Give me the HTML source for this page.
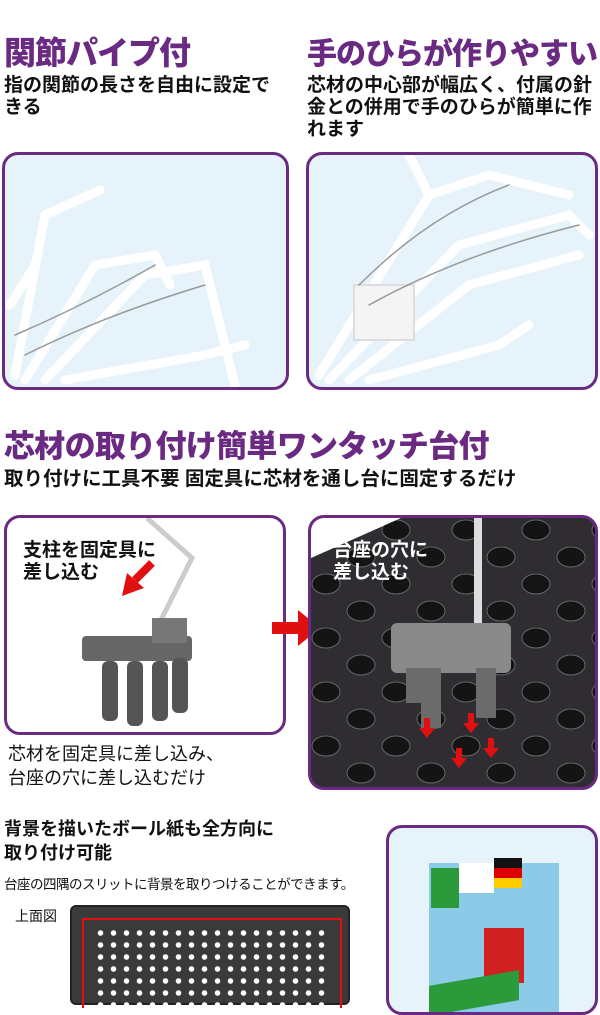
<!DOCTYPE html>
<html><head><meta charset="utf-8"><style>
*{margin:0;padding:0;box-sizing:border-box}
body{width:600px;height:1000px;background:#fff;position:relative;overflow:hidden;font-family:"Liberation Sans","Noto Sans CJK JP",sans-serif;color:#111}
.a{position:absolute;white-space:nowrap}
.h{color:#6b2a82;font-weight:900;font-size:32px;letter-spacing:-1px}
.s{font-size:19px;font-weight:bold;line-height:22px;letter-spacing:0}
.p{position:absolute;border:3px solid #6b2a82;border-radius:16px;overflow:hidden}
</style></head><body>
<div class="a h" style="left:4px;top:28px">関節パイプ付</div>
<div class="a h" style="left:307px;top:29px;font-size:30px;letter-spacing:-1px">手のひらが作りやすい</div>
<div class="a s" style="left:4px;top:75px">指の関節の長さを自由に設定で<br>きる</div>
<div class="a s" style="left:307px;top:75px">芯材の中心部が幅広く、付属の針<br>金との併用で手のひらが簡単に作<br>れます</div>

<div class="p" style="left:2px;top:152px;width:287px;height:238px;background:#e6f3fa">
<svg width="287" height="238" fill="none" stroke="#fff" stroke-width="9" stroke-linecap="round">
<path d="M10 220 L40 60 L95 35"/><path d="M20 225 L90 110 L150 100 L165 130"/><path d="M40 225 L140 120 L200 110 L230 230"/><path d="M60 225 L200 200 L240 190"/><path d="M5 150 L30 110"/>
<path d="M10 180 Q80 150 150 110 M20 200 Q100 160 200 130" stroke="#999" stroke-width="1.5"/>
</svg></div>
<div class="p" style="left:306px;top:152px;width:292px;height:238px;background:#e6f3fa">
<svg width="292" height="238" fill="none" stroke="#fff" stroke-width="9" stroke-linecap="round">
<path d="M100 0 L120 40"/><path d="M10 220 L120 40 L180 20 L260 40"/><path d="M20 225 L150 90 L260 60 L280 80"/><path d="M40 225 L160 130 L270 100"/><path d="M60 225 L190 190 L220 170"/>
<rect x="45" y="130" width="60" height="55" fill="#f4f4f4" stroke="#ddd" stroke-width="2"/>
<path d="M50 130 Q120 60 200 30 M60 150 Q150 100 270 70" stroke="#999" stroke-width="1.5"/>
</svg></div>

<div class="a h" style="left:4px;top:421px;font-size:31px;letter-spacing:-0.7px">芯材の取り付け簡単ワンタッチ台付</div>
<div class="a s" style="left:4px;top:468px;font-size:19.5px">取り付けに工具不要 固定具に芯材を通し台に固定するだけ</div>

<div class="p" style="left:4px;top:515px;width:282px;height:220px;background:#fff">
<div class="a s" style="left:16px;top:22px">支柱を固定具に<br>差し込む</div>
<svg width="282" height="220" style="position:absolute;left:0;top:0">
<path d="M140 0 L185 40 L150 110" stroke="#ccc" stroke-width="5" fill="none"/>
<path d="M145 45 L128 62" stroke="#e01010" stroke-width="8"/><polygon points="115,78 120,55 137,70" fill="#e01010"/>
<rect x="75" y="118" width="110" height="25" fill="#666" rx="4"/>
<rect x="95" y="143" width="16" height="60" fill="#555" rx="6"/><rect x="120" y="143" width="16" height="65" fill="#555" rx="6"/><rect x="145" y="143" width="16" height="60" fill="#555" rx="6"/><rect x="165" y="140" width="16" height="55" fill="#555" rx="6"/>
<rect x="145" y="100" width="35" height="25" fill="#777"/>
</svg></div>
<svg class="a" style="left:272px;top:608px" width="50" height="40"><path d="M0 14 H26 V2 L48 20 L26 38 V26 H0Z" fill="#e01010"/></svg>
<div class="a" style="left:8px;top:742px;font-size:18px;line-height:24px">芯材を固定具に差し込み、<br>台座の穴に差し込むだけ</div>

<div class="p" style="left:308px;top:515px;width:290px;height:275px;background:#2f2d31">
<svg width="290" height="275" style="position:absolute;left:0;top:0">
<defs><pattern id="h" width="70" height="54" patternUnits="userSpaceOnUse">
<ellipse cx="15" cy="12" rx="14" ry="10" fill="#141414" stroke="#666"/><ellipse cx="50" cy="39" rx="14" ry="10" fill="#141414" stroke="#666"/></pattern></defs>
<rect width="290" height="275" fill="url(#h)"/>
<polygon points="0,0 90,0 0,40" fill="#fff"/>
<rect x="163" y="0" width="8" height="110" fill="#ddd"/>
<rect x="80" y="105" width="120" height="50" fill="#8a8a8a" rx="6"/>
<rect x="110" y="150" width="20" height="60" fill="#6b6b6b"/><rect x="165" y="150" width="20" height="50" fill="#6b6b6b"/><rect x="95" y="150" width="18" height="35" fill="#6b6b6b"/>
<g fill="#e01010"><rect x="113" y="200" width="6" height="10"/><polygon points="108,210 124,210 116,220"/><rect x="145" y="230" width="6" height="10"/><polygon points="140,240 156,240 148,250"/><rect x="177" y="220" width="6" height="10"/><polygon points="172,230 188,230 180,240"/><rect x="157" y="195" width="6" height="10"/><polygon points="152,205 168,205 160,215"/></g>
</svg>
<div class="a s" style="left:22px;top:22px;color:#fff">台座の穴に<br>差し込む</div></div>

<div class="a" style="left:4px;top:817px;font-size:18px;font-weight:bold;line-height:24px">背景を描いたボール紙も全方向に<br>取り付け可能</div>
<div class="a" style="left:4px;top:873px;font-size:13.5px;letter-spacing:-0.5px">台座の四隅のスリットに背景を取りつけることができます。</div>
<div class="a" style="left:15px;top:906px;font-size:14px">上面図</div>
<div class="a" style="left:70px;top:905px;width:280px;height:100px;background:#3a3a3a;border-radius:6px;border:2px solid #222">
<div class="a" style="left:10px;top:11px;width:260px;height:90px;border-top:2px solid #e01010;border-left:2px solid #e01010;border-right:2px solid #e01010"></div>
<div class="a" style="left:22px;top:20px;width:236px;height:80px;background:radial-gradient(circle,#fff 2.5px,transparent 3px) 0 0/13px 12px"></div></div>
<div class="p" style="left:386px;top:825px;width:212px;height:190px;background:#e6f3fa">
<div class="a" style="left:40px;top:35px;width:130px;height:150px;background:#8ccbe8"></div>
<div class="a" style="left:42px;top:40px;width:28px;height:40px;background:#2a9a3a"></div>
<div class="a" style="left:70px;top:35px;width:35px;height:30px;background:#fff"></div>
<div class="a" style="left:105px;top:30px;width:28px;height:30px;background:linear-gradient(#111 33%,#d00 33% 66%,#fc0 66%)"></div>
<div class="a" style="left:95px;top:100px;width:40px;height:55px;background:#d02020"></div>
<div class="a" style="left:40px;top:150px;width:90px;height:30px;background:#2a9a3a;transform:skewY(-10deg)"></div>
</div>
</body></html>
